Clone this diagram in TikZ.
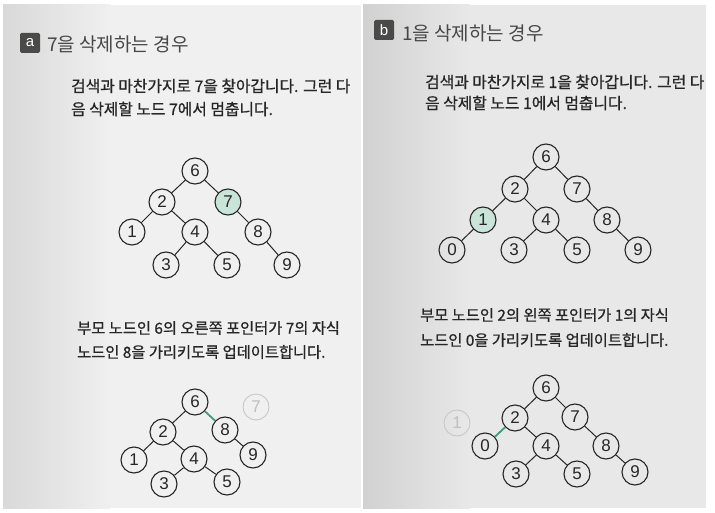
\documentclass[tikz,border=0pt]{standalone}
\usepackage{fontspec}
\setmainfont{Noto Sans CJK KR}
\newfontfamily\kr[FakeBold=0.8]{Noto Sans CJK KR}
\newfontfamily\krt{Noto Sans CJK KR}
\newfontfamily\dig{Liberation Sans}
\definecolor{hlgreen}{HTML}{C9E4D8}
\definecolor{edgegreen}{HTML}{3A9E84}
\definecolor{boxdark}{HTML}{4A4A48}
\definecolor{txt}{HTML}{262626}
\tikzset{
  nd/.style={circle, draw=txt, line width=1.1pt, minimum size=26pt, inner sep=0pt, text=txt, font=\dig\fontsize{17}{17}\selectfont},
  hl/.style={fill=hlgreen},
  gone/.style={draw=black!22, text=black!25, line width=0.9pt},
  ed/.style={draw=txt, line width=1pt},
  ged/.style={draw=edgegreen, line width=1.8pt},
  tline/.style={anchor=west, inner sep=0pt, text=txt, font=\kr\fontsize{15.3}{15.3}\selectfont},
  tlineb/.style={tline, font=\kr\fontsize{15.8}{15.8}\selectfont},
  ttl/.style={anchor=west, inner sep=0pt, text=black!72, font=\krt\fontsize{19}{19}\selectfont},
  lbl/.style={fill=boxdark, text=white, minimum size=20pt, inner sep=0pt, rounded corners=1.5pt, font=\dig\fontsize{15}{15}\selectfont}
}
\begin{document}
\begin{tikzpicture}[x=1pt,y=-1pt]
\useasboundingbox (0,0) rectangle (715,513);
\fill[white] (0,0) rectangle (715,513);
% photo backgrounds
\shade[left color=black!15, right color=black!6] (3,5) rectangle (110,508);
\fill[black!6] (109.5,5) rectangle (361,508);
\shade[left color=black!18, right color=black!9] (363,5) rectangle (470,508);
\fill[black!9] (469.5,5) rectangle (706,508);

% ---------- panel a ----------
\node[lbl] (la) at (30,43) {a};
\node[ttl] (ta) at (47,44) {7을 삭제하는 경우};
\node[tlineb] (pa1) at (71,86) {검색과 마찬가지로 7을 찾아갑니다. 그런 다};
\node[tlineb] (pa2) at (71,109) {음 삭제할 노드 7에서 멈춥니다.};

\node[nd] (a6) at (195,171) {6};
\node[nd] (a2) at (162,202) {2};
\node[nd,hl] (a7) at (228,202) {7};
\node[nd] (a1) at (132,232) {1};
\node[nd] (a4) at (195,232) {4};
\node[nd] (a8) at (258,232) {8};
\node[nd] (a3) at (166,265) {3};
\node[nd] (a5) at (227,265) {5};
\node[nd] (a9) at (287,265) {9};
\draw[ed] (a6)--(a2) (a6)--(a7) (a2)--(a1) (a2)--(a4) (a7)--(a8) (a4)--(a3) (a4)--(a5) (a8)--(a9);

\node[tline] (qa1) at (77,328) {부모 노드인 6의 오른쪽 포인터가 7의 자식};
\node[tline] (qa2) at (77,352) {노드인 8을 가리키도록 업데이트합니다.};

\node[nd] (b6) at (195,402) {6};
\node[nd] (b2) at (163,432) {2};
\node[nd] (b8) at (225,430) {8};
\node[nd,gone] (b7) at (256,407) {7};
\node[nd] (b1) at (134,460) {1};
\node[nd] (b4) at (194,459) {4};
\node[nd] (b9) at (253,455) {9};
\node[nd] (b3) at (164,484) {3};
\node[nd] (b5) at (227,482) {5};
\draw[ed] (b6)--(b2) (b2)--(b1) (b2)--(b4) (b4)--(b3) (b4)--(b5) (b8)--(b9);
\draw[ged] (b6)--(b8);

% ---------- panel b ----------
\node[lbl] (lb) at (384,30) {b};
\node[ttl] (tb) at (402,33) {1을 삭제하는 경우};
\node[tlineb] (pb1) at (425,82) {검색과 마찬가지로 1을 찾아갑니다. 그런 다};
\node[tlineb] (pb2) at (425,103) {음 삭제할 노드 1에서 멈춥니다.};

\node[nd] (c6) at (546,157) {6};
\node[nd] (c2) at (515,189) {2};
\node[nd] (c7) at (577,189) {7};
\node[nd,hl] (c1) at (483,220) {1};
\node[nd] (c4) at (546,220) {4};
\node[nd] (c8) at (607,220) {8};
\node[nd] (c0) at (452,250) {0};
\node[nd] (c3) at (514,250) {3};
\node[nd] (c5) at (577,250) {5};
\node[nd] (c9) at (638,250) {9};
\draw[ed] (c6)--(c2) (c6)--(c7) (c2)--(c1) (c2)--(c4) (c7)--(c8) (c1)--(c0) (c4)--(c3) (c4)--(c5) (c8)--(c9);

\node[tline] (qb1) at (420,315) {부모 노드인 2의 왼쪽 포인터가 1의 자식};
\node[tline] (qb2) at (420,340) {노드인 0을 가리키도록 업데이트합니다.};

\node[nd] (d6) at (546,388) {6};
\node[nd] (d2) at (515,418) {2};
\node[nd] (d7) at (575,417) {7};
\node[nd,gone] (d1) at (457,423) {1};
\node[nd] (d0) at (485,446) {0};
\node[nd] (d4) at (546,446) {4};
\node[nd] (d8) at (606,446) {8};
\node[nd] (d3) at (516,474) {3};
\node[nd] (d5) at (577,474) {5};
\node[nd] (d9) at (635,472) {9};
\draw[ed] (d6)--(d2) (d6)--(d7) (d2)--(d4) (d7)--(d8) (d4)--(d3) (d4)--(d5) (d8)--(d9);
\draw[ged] (d2)--(d0);
\end{tikzpicture}
\end{document}
